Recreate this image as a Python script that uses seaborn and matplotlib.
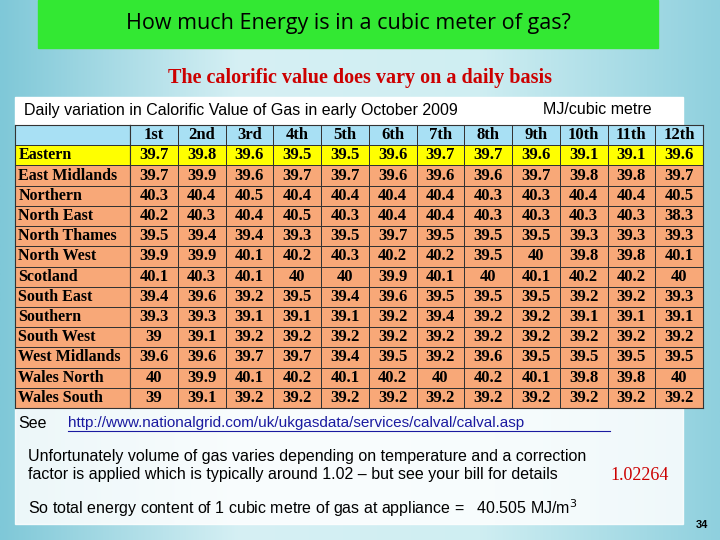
import numpy as np
import pandas as pd
import seaborn as sns
import matplotlib.pyplot as plt
from matplotlib.colors import ListedColormap, LinearSegmentedColormap

regions = ["Eastern", "East Midlands", "Northern", "North East", "North Thames", "North West",
           "Scotland", "South East", "Southern", "South West", "West Midlands", "Wales North", "Wales South"]
days = ["1st", "2nd", "3rd", "4th", "5th", "6th", "7th", "8th", "9th", "10th", "11th", "12th"]
eastern       = [39.7, 39.8, 39.6, 39.5, 39.5, 39.6, 39.7, 39.7, 39.6, 39.1, 39.1, 39.6]
east_midlands = [39.7, 39.9, 39.6, 39.7, 39.7, 39.6, 39.6, 39.6, 39.7, 39.8, 39.8, 39.7]
northern      = [40.3, 40.4, 40.5, 40.4, 40.4, 40.4, 40.4, 40.3, 40.3, 40.4, 40.4, 40.5]
north_east    = [40.2, 40.3, 40.4, 40.5, 40.3, 40.4, 40.4, 40.3, 40.3, 40.3, 40.3, 38.3]
north_thames  = [39.5, 39.4, 39.4, 39.3, 39.5, 39.7, 39.5, 39.5, 39.5, 39.3, 39.3, 39.3]
north_west    = [39.9, 39.9, 40.1, 40.2, 40.3, 40.2, 40.2, 39.5, 40.0, 39.8, 39.8, 40.1]
scotland      = [40.1, 40.3, 40.1, 40.0, 40.0, 39.9, 40.1, 40.0, 40.1, 40.2, 40.2, 40.0]
south_east    = [39.4, 39.6, 39.2, 39.5, 39.4, 39.6, 39.5, 39.5, 39.5, 39.2, 39.2, 39.3]
southern      = [39.3, 39.3, 39.1, 39.1, 39.1, 39.2, 39.4, 39.2, 39.2, 39.1, 39.1, 39.1]
south_west    = [39.0, 39.1, 39.2, 39.2, 39.2, 39.2, 39.2, 39.2, 39.2, 39.2, 39.2, 39.2]
west_midlands = [39.6, 39.6, 39.7, 39.7, 39.4, 39.5, 39.2, 39.6, 39.5, 39.5, 39.5, 39.5]
wales_north   = [40.0, 39.9, 40.1, 40.2, 40.1, 40.2, 40.0, 40.2, 40.1, 39.8, 39.8, 40.0]
wales_south   = [39.0, 39.1, 39.2, 39.2, 39.2, 39.2, 39.2, 39.2, 39.2, 39.2, 39.2, 39.2]

values = np.array([eastern, east_midlands, northern, north_east, north_thames, north_west, scotland,
                   south_east, southern, south_west, west_midlands, wales_north, wales_south])
df = pd.DataFrame(values, index=regions, columns=days)

W, H = 720, 540
fig = plt.figure(figsize=(7.2, 5.4), dpi=100)

bg = fig.add_axes([0, 0, 1, 1])
grad = np.linspace(0, 1, 256).reshape(1, -1)
bg.imshow(grad, aspect='auto', cmap=LinearSegmentedColormap.from_list('b', ['#7fc8d8', '#d6f0f4', '#cfeef2', '#8fd0de']),
          extent=[0, 1, 0, 1])
bg.set_xlim(0, 1); bg.set_ylim(0, 1); bg.axis('off')

def fx(px): return px / W
def fy(py): return 1 - py / H

SANS = 'Liberation Sans'
bg.add_patch(plt.Rectangle((fx(38), fy(48)), fx(620), 48 / H, color='#33e833', zorder=2))
bg.text(fx(348), fy(24), "How much Energy is in a cubic meter of gas?", ha='center', va='center',
        fontsize=15.5, family='Open Sans', zorder=3)
bg.text(fx(360), fy(78), "The calorific value does vary on a daily basis", ha='center', va='center',
        fontsize=14.5, family='Liberation Serif', weight='bold', color='#cc0000', zorder=3)
bg.add_patch(plt.Rectangle((fx(15), fy(125)), fx(668), 28 / H, color='white', zorder=2))
bg.text(fx(24), fy(110), "Daily variation in Calorific Value of Gas in early October 2009", ha='left', va='center',
        fontsize=11.5, family=SANS, zorder=3)
bg.text(fx(543), fy(110), "MJ/cubic metre", ha='left', va='center', fontsize=11.5, family=SANS, zorder=3)
bg.add_patch(plt.Rectangle((fx(15), fy(524)), fx(668), 116 / H, color='white', alpha=0.85, zorder=2))
bg.text(fx(18), fy(423), "See", ha='left', va='center', fontsize=11.5, family=SANS, zorder=3)
bg.text(fx(68), fy(423), "http://www.nationalgrid.com/uk/ukgasdata/services/calval/calval.asp", ha='left', va='center',
        fontsize=11, family=SANS, color='#1a1aa0', zorder=3)
bg.plot([fx(68), fx(610)], [fy(431), fy(431)], color='#1a1aa0', lw=0.8, zorder=3)
bg.text(fx(28), fy(456), "Unfortunately volume of gas varies depending on temperature and a correction",
        ha='left', va='center', fontsize=11.5, family=SANS, zorder=3)
bg.text(fx(28), fy(475), "factor is applied which is typically around 1.02 \u2013 but see your bill for details",
        ha='left', va='center', fontsize=11.5, family=SANS, zorder=3)
bg.text(fx(610), fy(475), "1.02264", ha='left', va='center', fontsize=13, family='Liberation Serif',
        color='#cc0000', zorder=3)
bg.text(fx(28), fy(508), "So total energy content of 1 cubic metre of gas at appliance =   40.505 MJ/m$^3$",
        ha='left', va='center', fontsize=11.5, family=SANS, zorder=3)
bg.text(fx(708), fy(525), "34", ha='right', va='center', fontsize=8, weight='bold', family=SANS, zorder=3)

cmap = ListedColormap(['#a8e0f4', '#ffff00', '#f8a878'])
top, bottom = 125, 408
nrow = len(regions) + 1

def codes(ncol):
    c = np.full((nrow, ncol), 2)
    c[0, :] = 0
    c[1, :] = 1
    return c

FS = 12
ax1 = fig.add_axes([fx(15), fy(bottom), fx(115), (bottom - top) / H])
sns.heatmap(codes(1), ax=ax1, cmap=cmap, vmin=0, vmax=2, cbar=False, linewidths=0.5, linecolor='#333333')
ax1.set_xticks([]); ax1.set_yticks([])
for i, r in enumerate(regions):
    ax1.text(0.03, i + 1.5, r, ha='left', va='center', fontsize=FS - 0.5, family='Liberation Serif', weight='bold')

ax2 = fig.add_axes([fx(130), fy(bottom), fx(573), (bottom - top) / H])
annot = np.vstack([np.array(days)[None, :], np.vectorize(lambda v: f"{v:g}")(df.values)])
sns.heatmap(codes(len(days)), ax=ax2, cmap=cmap, vmin=0, vmax=2, cbar=False, linewidths=0.5, linecolor='#333333',
            annot=annot, fmt='', annot_kws=dict(fontsize=FS, family='Liberation Serif', weight='bold', color='black'))
ax2.set_xticks([]); ax2.set_yticks([])
for a in (ax1, ax2):
    for s in a.spines.values():
        s.set_visible(True); s.set_color('#333333'); s.set_linewidth(0.8)

fig.savefig('out.png', dpi=100)
